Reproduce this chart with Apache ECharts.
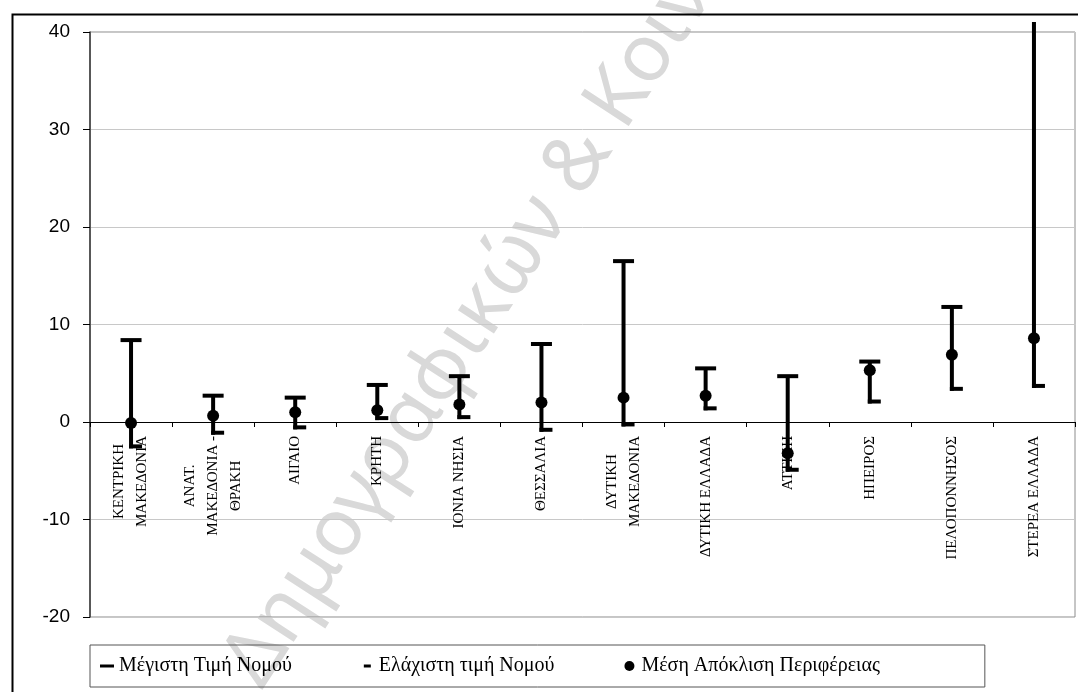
<!DOCTYPE html>
<html>
<head>
<meta charset="utf-8">
<script src="https://cdn.jsdelivr.net/npm/echarts@6/dist/echarts.min.js"></script>
<style>
html,body{margin:0;padding:0;background:#fff;}
#chart{width:1078px;height:692px;}
</style>
</head>
<body>
<div id="chart"></div>
<script>
const categories = [
  'ΚΕΝΤΡΙΚΗ\nΜΑΚΕΔΟΝΙΑ',
  'ΑΝΑΤ.\nΜΑΚΕΔΟΝΙΑ -\nΘΡΑΚΗ',
  'ΑΙΓΑΙΟ',
  'ΚΡΗΤΗ',
  'ΙΟΝΙΑ ΝΗΣΙΑ',
  'ΘΕΣΣΑΛΙΑ',
  'ΔΥΤΙΚΗ\nΜΑΚΕΔΟΝΙΑ',
  'ΔΥΤΙΚΗ ΕΛΛΑΔΑ',
  'ΑΤΤΙΚΗ',
  'ΗΠΕΙΡΟΣ',
  'ΠΕΛΟΠΟΝΝΗΣΟΣ',
  'ΣΤΕΡΕΑ ΕΛΛΑΔΑ'
];
const maxValues  = [8.4, 2.7, 2.5, 3.8, 4.7, 8.0, 16.5, 5.5, 4.7, 6.2, 11.8, 45.0];
const minValues  = [-2.5, -1.1, -0.55, 0.4, 0.5, -0.8, -0.25, 1.4, -4.9, 2.1, 3.4, 3.7];
const meanValues = [-0.1, 0.65, 1.0, 1.2, 1.8, 2.0, 2.5, 2.7, -3.2, 5.3, 6.9, 8.6];
const yTicks = { min: -20, max: 40, interval: 10 };

const seriesNames = ['Μέγιστη Τιμή Νομού', 'Ελάχιστη τιμή Νομού', 'Μέση Απόκλιση Περιφέρειας'];

const chart = echarts.init(document.getElementById('chart'));

const serif = "'Liberation Serif', 'Times New Roman', serif";
const sans = "'Liberation Sans', Arial, sans-serif";

const option = {
  animation: false,
  backgroundColor: '#ffffff',
  graphic: [
    {
      type: 'rect',
      left: 10, top: 12,
      shape: { width: 1100, height: 720 },
      style: { fill: 'none', stroke: '#000', lineWidth: 2 },
      z: 100, silent: true
    },
    {
      type: 'text',
      x: 243, y: 678,
      rotation: 57 * Math.PI / 180,
      style: {
        text: 'Δημογραφικών & Κοινωνικών',
        font: "80px 'Noto Sans', sans-serif",
        fill: '#d9d9d9',
        align: 'left',
        verticalAlign: 'middle'
      },
      z: -1, silent: true
    }
  ],
  grid: {
    left: 90, right: 3, top: 32, bottom: 75,
    containLabel: false,
    outerBoundsMode: 'none',
    show: true, borderColor: '#8c8c8c', borderWidth: 1, backgroundColor: 'transparent'
  },
  legend: {
    left: 90, top: 645,
    padding: [11, 105, 11, 10],
    borderColor: '#555', borderWidth: 1,
    backgroundColor: 'transparent',
    itemWidth: 14, itemHeight: 14, itemGap: 68,
    textStyle: { fontFamily: serif, fontSize: 20, color: '#000' },
    data: [
      { name: seriesNames[0], icon: 'path://M0,0M14,14M0,5.5H14V8.5H0Z', itemStyle: { color: '#000' } },
      { name: seriesNames[1], icon: 'path://M0,0M14,14M4,5.5H11V8.5H4Z', itemStyle: { color: '#000' } },
      { name: seriesNames[2], icon: 'path://M0,0M14,14M12,7A5,5,0,1,1,2,7A5,5,0,1,1,12,7Z', itemStyle: { color: '#000' } }
    ]
  },
  xAxis: {
    type: 'category',
    data: categories,
    boundaryGap: true,
    position: 'bottom',
    offset: 0,
    axisLine: { onZero: false, lineStyle: { color: '#000', width: 1 } },
    axisTick: { show: true, length: 5, lineStyle: { color: '#000' } },
    splitLine: { show: false },
    axisLabel: {
      rotate: 90,
      interval: 0,
      margin: 14,
      color: '#000',
      fontFamily: serif,
      fontSize: 15,
      lineHeight: 23,
      formatter: function (v) {
        return v.split('\n').map(function (l) { return '{c|' + l + '}'; }).join('\n');
      },
      rich: {
        c: { align: 'center', fontFamily: serif, fontSize: 15, lineHeight: 23, color: '#000' }
      }
    }
  },
  yAxis: {
    type: 'value',
    min: yTicks.min, max: yTicks.max, interval: yTicks.interval,
    axisLine: { show: true, lineStyle: { color: '#333', width: 1.5 } },
    axisTick: { show: true, length: 7, lineStyle: { color: '#000' } },
    axisLabel: { color: '#000', fontFamily: sans, fontSize: 19, margin: 20 },
    splitLine: { show: true, lineStyle: { color: '#c8c8c8', width: 1 } }
  },
  series: [
    {
      name: seriesNames[0],
      type: 'custom',
      clip: false,
      z: 3,
      itemStyle: { color: '#000' },
      data: maxValues.map(function (v, i) { return [i, v, minValues[i]]; }),
      renderItem: function (params, api) {
        const i = api.value(0);
        const top = api.coord([i, api.value(1)]);
        const bot = api.coord([i, api.value(2)]);
        const limit = params.coordSys.y - 10;
        const clipped = top[1] < limit;
        const ty = Math.max(top[1], limit);
        const children = [{
          type: 'line',
          shape: { x1: top[0], y1: ty, x2: top[0], y2: bot[1] + 2 },
          style: { stroke: '#000', lineWidth: 4 }
        }];
        if (!clipped) {
          children.push({
            type: 'line',
            shape: { x1: top[0] - 10.5, y1: ty, x2: top[0] + 10.5, y2: ty },
            style: { stroke: '#000', lineWidth: 4 }
          });
        }
        return { type: 'group', children: children };
      }
    },
    {
      name: seriesNames[1],
      type: 'custom',
      clip: false,
      z: 3,
      itemStyle: { color: '#000' },
      data: minValues.map(function (v, i) { return [i, v]; }),
      renderItem: function (params, api) {
        const p = api.coord([api.value(0), api.value(1)]);
        return {
          type: 'line',
          shape: { x1: p[0] - 2, y1: p[1], x2: p[0] + 11, y2: p[1] },
          style: { stroke: '#000', lineWidth: 4 }
        };
      }
    },
    {
      name: seriesNames[2],
      type: 'scatter',
      z: 4,
      symbol: 'circle',
      symbolSize: 12,
      itemStyle: { color: '#000', opacity: 1 },
      data: meanValues.map(function (v, i) { return [i, v]; })
    }
  ]
};
chart.setOption(option);
// place the category axis on the value 0 line (as in the original chart)
const yZero = chart.convertToPixel({ yAxisIndex: 0 }, 0);
const yBottom = chart.convertToPixel({ yAxisIndex: 0 }, yTicks.min);
chart.setOption({ xAxis: { offset: yZero - yBottom } });
</script>
</body>
</html>
